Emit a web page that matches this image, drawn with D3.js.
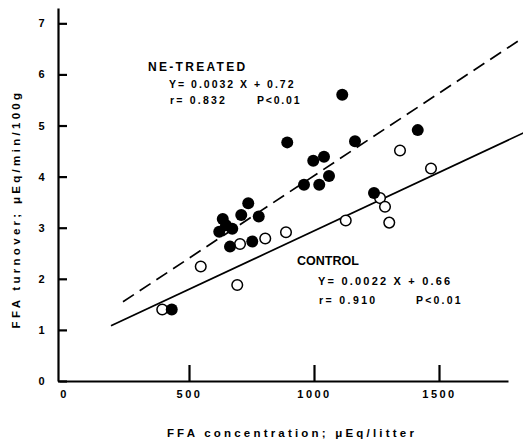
<!DOCTYPE html>
<html>
<head>
<meta charset="utf-8">
<script src="https://cdn.jsdelivr.net/npm/d3@7"></script>
<style>
body { margin: 0; background: #fff; }
svg { display: block; }
text { font-family: "Liberation Sans", Arial, sans-serif; font-weight: bold; fill: #000; }
.axis .domain { stroke: #000; stroke-width: 2.2; }
.axis .tick line { stroke: #000; stroke-width: 2.2; }
.axis .tick text { font-size: 11px; letter-spacing: 2.5px; fill: #000; }
</style>
</head>
<body>
<svg width="523" height="444"></svg>
<script>
// NE-treated (filled) : FFA concentration, FFA turnover
var neX = [431, 621, 635, 673, 648, 664, 709, 737, 779, 753, 893, 960, 1021, 997, 1040, 1060, 1113, 1164, 1240, 1415];
var neY = [1.40, 2.92, 3.17, 2.98, 3.05, 2.63, 3.25, 3.48, 3.22, 2.73, 4.67, 3.84, 3.84, 4.31, 4.39, 4.01, 5.60, 4.69, 3.68, 4.91];

// control (open)
var ctrlX = [393, 547, 693, 704, 805, 888, 1127, 1264, 1284, 1301, 1344, 1468];
var ctrlY = [1.40, 2.24, 1.88, 2.68, 2.79, 2.91, 3.14, 3.58, 3.41, 3.10, 4.51, 4.16];

// regression lines as drawn (end points)
var neLineX = [236, 1840], neLineY = [1.55, 6.73];
var ctrlLineX = [188, 1840], ctrlLineY = [1.08, 4.86];

var xTicks = [0, 500, 1000, 1500];
var yTicks = [0, 1, 2, 3, 4, 5, 6, 7];

var svg = d3.select("svg");

var x = d3.scaleLinear().domain([-20, 1776]).range([59, 508]);
var y = d3.scaleLinear().domain([0, 7.3]).range([381, 8]);

// axes
svg.append("g")
    .attr("class", "axis")
    .attr("transform", "translate(0,381)")
    .call(d3.axisBottom(x).tickValues(xTicks).tickFormat(d3.format("d")).tickSize(-16).tickPadding(9).tickSizeOuter(0))
    .call(function(g) { g.selectAll(".tick").filter(function(d) { return d === 0; }).select("line").remove(); });

svg.append("g")
    .attr("class", "axis")
    .attr("transform", "translate(58,0)")
    .call(d3.axisLeft(y).tickValues(yTicks).tickSize(-9).tickPadding(10).tickSizeOuter(0))
    .call(function(g) { g.selectAll(".tick text").attr("dx", "-1"); });

// regression lines
var line = d3.line()
    .x(function(d) { return x(d[0]); })
    .y(function(d) { return y(d[1]); });

svg.append("path")
    .datum(d3.zip(neLineX, neLineY))
    .attr("d", line)
    .attr("fill", "none")
    .attr("stroke", "#000")
    .attr("stroke-width", 1.7)
    .attr("stroke-dasharray", "13,7");

svg.append("path")
    .datum(d3.zip(ctrlLineX, ctrlLineY))
    .attr("d", line)
    .attr("fill", "none")
    .attr("stroke", "#000")
    .attr("stroke-width", 1.7);

// points
svg.append("g").selectAll("circle")
    .data(d3.zip(ctrlX, ctrlY))
  .enter().append("circle")
    .attr("cx", function(d) { return x(d[0]); })
    .attr("cy", function(d) { return y(d[1]); })
    .attr("r", 5.3)
    .attr("fill", "#fff")
    .attr("stroke", "#000")
    .attr("stroke-width", 1.5);

svg.append("g").selectAll("circle")
    .data(d3.zip(neX, neY))
  .enter().append("circle")
    .attr("cx", function(d) { return x(d[0]); })
    .attr("cy", function(d) { return y(d[1]); })
    .attr("r", 6)
    .attr("fill", "#000");

// annotations
svg.append("text").attr("x", 148).attr("y", 71).style("font-size", "12px").style("letter-spacing", "2.3px").text("NE-TREATED");
svg.append("text").attr("x", 169).attr("y", 88).style("font-size", "10.5px").style("letter-spacing", "2px").text("Y= 0.0032 X + 0.72");
svg.append("text").attr("x", 170).attr("y", 104).style("font-size", "10.5px").style("letter-spacing", "2.2px").text("r= 0.832");
svg.append("text").attr("x", 257).attr("y", 104).style("font-size", "10.5px").style("letter-spacing", "1.8px").text("P<0.01");

svg.append("text").attr("x", 297).attr("y", 265).style("font-size", "12.5px").style("letter-spacing", "0px").text("CONTROL");
svg.append("text").attr("x", 318).attr("y", 285).style("font-size", "11px").style("letter-spacing", "2.2px").text("Y= 0.0022 X + 0.66");
svg.append("text").attr("x", 319).attr("y", 304).style("font-size", "10.5px").style("letter-spacing", "2.4px").text("r= 0.910");
svg.append("text").attr("x", 416).attr("y", 304).style("font-size", "10.5px").style("letter-spacing", "2.2px").text("P<0.01");

// axis titles
svg.append("text")
    .attr("x", 292).attr("y", 437)
    .attr("text-anchor", "middle")
    .style("font-size", "11.5px").style("letter-spacing", "3.2px")
    .text("FFA concentration; μEq/litter");

svg.append("text")
    .attr("transform", "translate(20,209) rotate(-90)")
    .attr("text-anchor", "middle")
    .style("font-size", "11.5px").style("letter-spacing", "3.3px")
    .text("FFA turnover; μEq/min/100g");
</script>
</body>
</html>
